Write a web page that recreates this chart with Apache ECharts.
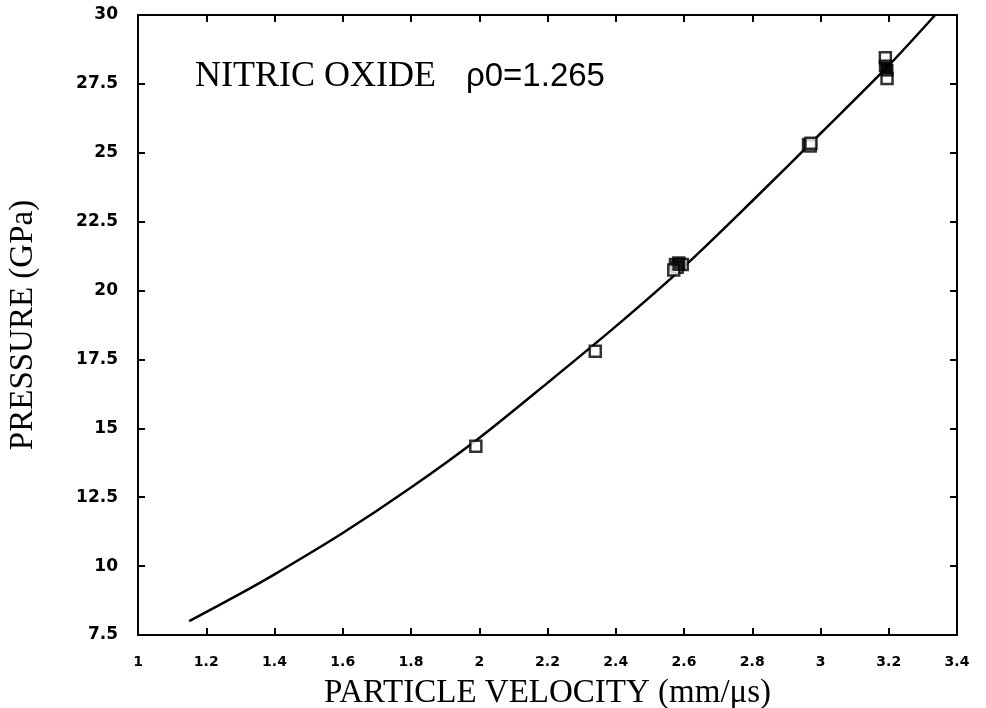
<!DOCTYPE html>
<html>
<head>
<meta charset="utf-8">
<script src="https://cdn.jsdelivr.net/npm/echarts@6/dist/echarts.min.js"></script>
<style>
  html, body { margin: 0; padding: 0; background: #fff; }
  #chart { width: 986px; height: 708px; }
</style>
</head>
<body>
<div id="chart"></div>
<script>
// Fitted Hugoniot curve, particle velocity (mm/us) vs pressure (GPa)
const curveVelocity = [1.15, 1.3, 1.4, 1.6, 1.8, 2.0, 2.2, 2.4, 2.6, 2.8, 3.0, 3.2, 3.336];
const curvePressure = [8.0, 9.0, 9.7, 11.2, 12.85, 14.65, 16.65, 18.7, 20.87, 23.25, 25.7, 28.17, 30.0];

// Measured shots, open squares (several overlap near 2.58, 2.97 and 3.19)
const shotVelocity = [1.99, 2.34,
  2.575, 2.585, 2.595, 2.58, 2.57,
  2.965, 2.97, 2.972,
  3.19, 3.195];
const shotPressure = [14.35, 17.8,
  20.95, 21.0, 20.95, 20.85, 20.75,
  25.3, 25.25, 25.35,
  28.45, 27.7];

// Coincident shots drawn as solid squares
const solidVelocity = [2.585, 3.19, 3.195];
const solidPressure = [20.95, 28.15, 28.0];

// Axis ranges and tick steps
const xRange = [1, 3.4], xStep = 0.2;
const yRange = [7.5, 30], yStep = 2.5;

const curveData = curveVelocity.map((v, i) => [v, curvePressure[i]]);
const shotData = shotVelocity.map((v, i) => [v, shotPressure[i]]);
const solidData = solidVelocity.map((v, i) => [v, solidPressure[i]]);

const chart = echarts.init(document.getElementById('chart'));

const axisLine = { show: true, onZero: false, lineStyle: { color: '#000', width: 2 } };
const axisTickIn = { show: true, inside: true, length: 7, lineStyle: { color: '#000', width: 2 } };
const tickFont = { color: '#000', fontFamily: 'DejaVu Sans', fontWeight: 'bold' };
const trim = v => String(Math.round(v * 100) / 100);

chart.setOption({
  animation: false,
  backgroundColor: '#fff',
  grid: { left: 138, right: 29, top: 15, bottom: 73, containLabel: false, outerBoundsMode: 'none' },
  xAxis: [
    {
      type: 'value', position: 'bottom', min: xRange[0], max: xRange[1], interval: xStep,
      axisLine, axisTick: axisTickIn, splitLine: { show: false },
      axisLabel: Object.assign({ fontSize: 14, margin: 20, formatter: trim }, tickFont),
      name: 'PARTICLE VELOCITY (mm/\u03bcs)', nameLocation: 'middle', nameGap: 42,
      nameTextStyle: { fontFamily: 'Liberation Serif', fontSize: 33, color: '#000' }
    },
    {
      type: 'value', position: 'top', min: xRange[0], max: xRange[1], interval: xStep,
      axisLine, axisTick: axisTickIn, axisLabel: { show: false }, splitLine: { show: false }
    }
  ],
  yAxis: [
    {
      type: 'value', position: 'left', min: yRange[0], max: yRange[1], interval: yStep,
      axisLine, axisTick: axisTickIn, splitLine: { show: false },
      axisLabel: Object.assign({ fontSize: 17, margin: 20, formatter: trim }, tickFont),
      name: 'PRESSURE (GPa)', nameLocation: 'middle', nameGap: 98, nameRotate: 90,
      nameTextStyle: { fontFamily: 'Liberation Serif', fontSize: 33, color: '#000' }
    },
    {
      type: 'value', position: 'right', min: yRange[0], max: yRange[1], interval: yStep,
      axisLine, axisTick: axisTickIn, axisLabel: { show: false }, splitLine: { show: false }
    }
  ],
  graphic: [
    {
      type: 'text', left: 195, top: 59,
      style: {
        text: '{a|NITRIC OXIDE}{b|\u03c10=1.265}',
        rich: {
          a: { fontFamily: 'Liberation Serif', fontSize: 36, fill: '#000' },
          b: { fontFamily: 'Liberation Sans', fontSize: 33, fill: '#000', padding: [0, 0, 0, 30] }
        }
      }
    }
  ],
  series: [
    {
      type: 'line', data: curveData, smooth: 0.3, showSymbol: false,
      lineStyle: { color: '#000', width: 2.5 }, z: 2
    },
    {
      type: 'scatter', data: shotData, symbol: 'rect', symbolSize: 11,
      itemStyle: { color: '#fff', borderColor: '#000', borderWidth: 2.5 }, z: 3
    },
    {
      type: 'scatter', data: solidData, symbol: 'rect', symbolSize: 12,
      itemStyle: { color: '#000', borderColor: '#000', borderWidth: 1 }, z: 4
    }
  ]
});
</script>
</body>
</html>
